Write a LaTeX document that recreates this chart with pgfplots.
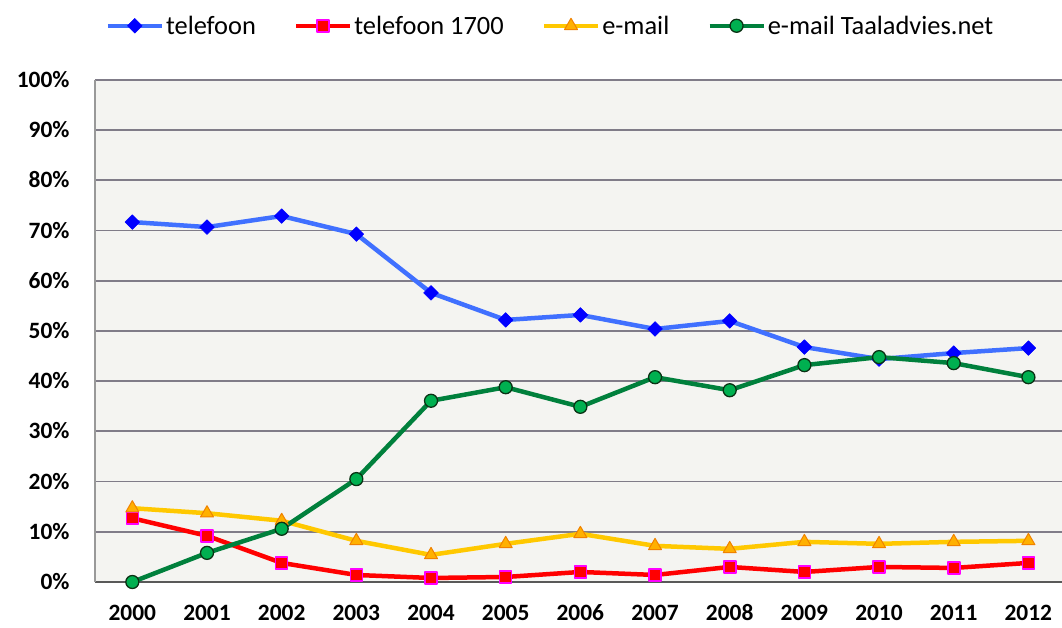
\documentclass[border=0pt]{standalone}
\usepackage{pgfplots}
\pgfplotsset{compat=1.18}
\usepackage{fontspec}
\setmainfont{Carlito}
\definecolor{telline}{RGB}{64,112,255}
\definecolor{telmark}{RGB}{0,0,255}
\definecolor{redline}{RGB}{255,0,0}
\definecolor{magborder}{RGB}{255,0,255}
\definecolor{yelline}{RGB}{255,200,0}
\definecolor{yelmark}{RGB}{255,176,0}
\definecolor{yelborder}{RGB}{240,130,0}
\definecolor{grnline}{RGB}{0,128,60}
\definecolor{grnmark}{RGB}{0,176,80}
\definecolor{grnborder}{RGB}{10,50,20}
\definecolor{bgc}{RGB}{244,244,241}
\definecolor{gridc}{RGB}{128,124,136}
\begin{document}
\begin{tikzpicture}
\begin{axis}[
  scale only axis,
  width=967bp, height=502bp,
  xmin=1999.5, xmax=2012.45,
  ymin=0, ymax=100,
  clip=false,
  axis background/.style={fill=bgc},
  axis x line*=bottom, axis y line*=left,
  axis line style={draw=gray!80, line width=2bp},
  x axis line style={draw=gray!70!black},
  major tick length=0pt,
  xtick={2000,...,2012},
  xticklabels={2000,2001,2002,2003,2004,2005,2006,2007,2008,2009,2010,2011,2012},
  ytick={0,10,...,100},
  yticklabels={0\%,10\%,20\%,30\%,40\%,50\%,60\%,70\%,80\%,90\%,100\%},
  ymajorgrids,
  major grid style={draw=gridc, line width=1.8bp},
  tick label style={font=\bfseries\fontsize{23.5}{23.5}\selectfont},
  xticklabel style={yshift=-20bp, text height=15bp, text depth=0bp},
  yticklabel style={xshift=-22bp, text height=15bp, text depth=0bp},
  legend style={at={(rel axis cs:0.471,1.108)}, anchor=center, draw=none, fill=none,
    font=\fontsize{26.5}{26.5}\selectfont, legend columns=-1,
    /tikz/every even column/.append style={column sep=36bp}},
  legend image code/.code={\draw[mark repeat=2,mark phase=2] plot coordinates {(0bp,0bp)(27bp,0bp)(54bp,0bp)};},
  every axis plot/.append style={line width=4.5bp, line join=round},
]
\addplot[telline, mark=square*, mark size=5.2bp, mark options={rotate=45, fill=telmark, draw=telmark, line width=0.5bp}] coordinates {
(2000,71.7)(2001,70.7)(2002,72.9)(2003,69.3)(2004,57.6)(2005,52.2)(2006,53.2)(2007,50.4)(2008,52.0)(2009,46.8)(2010,44.4)(2011,45.6)(2012,46.6)};
\addlegendentry{telefoon}
\addplot[redline, mark=square*, mark size=6bp, mark options={fill=redline, draw=magborder, line width=1.6bp}] coordinates {
(2000,12.7)(2001,9.2)(2002,3.8)(2003,1.4)(2004,0.8)(2005,1.0)(2006,2.0)(2007,1.4)(2008,3.0)(2009,2.0)(2010,3.0)(2011,2.8)(2012,3.8)};
\addlegendentry{telefoon 1700}
\addplot[yelline, mark=triangle*, mark size=7.5bp, mark options={fill=yelmark, draw=yelborder, line width=1bp}] coordinates {
(2000,14.7)(2001,13.7)(2002,12.2)(2003,8.2)(2004,5.4)(2005,7.6)(2006,9.6)(2007,7.2)(2008,6.6)(2009,8.0)(2010,7.6)(2011,8.0)(2012,8.2)};
\addlegendentry{e-mail}
\addplot[grnline, mark=*, mark size=6.5bp, mark options={fill=grnmark, draw=grnborder, line width=1.3bp}] coordinates {
(2000,0)(2001,5.8)(2002,10.6)(2003,20.5)(2004,36.1)(2005,38.8)(2006,34.9)(2007,40.8)(2008,38.2)(2009,43.2)(2010,44.8)(2011,43.6)(2012,40.8)};
\addlegendentry{e-mail Taaladvies.net}
\end{axis}
\pgfresetboundingbox
\path ([xshift=-95bp,yshift=-46bp]current axis.south west) rectangle ([yshift=80bp]current axis.north east);
\end{tikzpicture}
\end{document}
